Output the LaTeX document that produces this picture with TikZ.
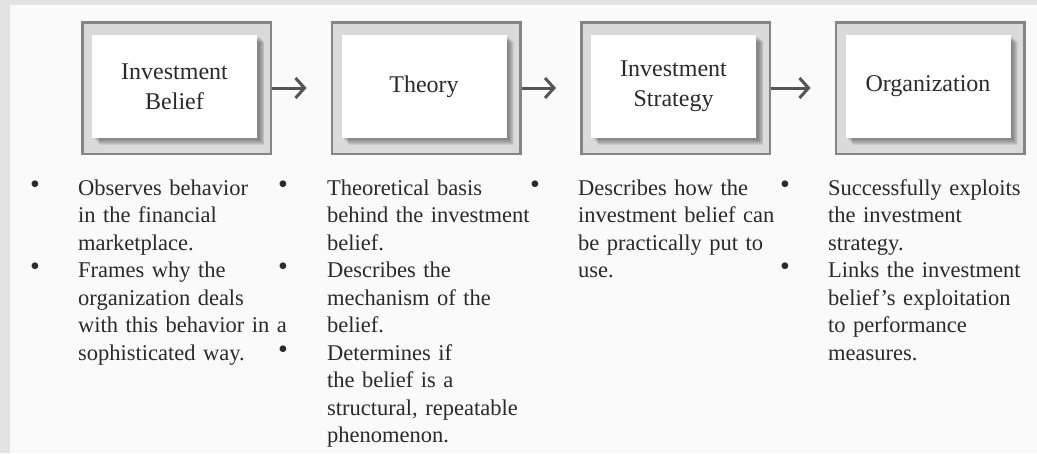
\documentclass[tikz,border=0pt]{standalone}
\usepackage{fontspec}
\setmainfont{Liberation Serif}
\usetikzlibrary{arrows.meta}
\definecolor{ink}{HTML}{2A2A2A}
\definecolor{pagebg}{HTML}{FAFAFA}
\definecolor{sidebg}{HTML}{E3E3E1}
\definecolor{framegray}{HTML}{858585}
\definecolor{framefill}{HTML}{DADADA}
\definecolor{arrowgray}{HTML}{555555}
\begin{document}
\begin{tikzpicture}[x=1pt,y=-1pt,
  frame/.style={draw=framegray, line width=2.5pt, fill=framefill,
    minimum width=188.5pt, minimum height=131.5pt, inner sep=0pt},
  innerbox/.style={fill=white, minimum width=165pt, minimum height=103pt,
    inner sep=0pt, align=center, text=ink,
    font=\fontsize{24}{30}\selectfont},
  shadowbox/.style={fill=black, opacity=0.07, minimum width=165pt,
    minimum height=103pt, inner sep=0pt},
  arr/.style={draw=arrowgray, line width=3pt,
    -{Straight Barb[length=9pt,width=20pt,line width=3pt]}},
  item/.style={anchor=base west, inner sep=0pt, text width=240pt,
    align=left, text=ink, font=\fontsize{22.5}{27.5}\selectfont},
  bul/.style={anchor=base, inner sep=0pt, text=ink,
    font=\fontsize{28}{28}\selectfont}]
\useasboundingbox (0,0) rectangle (1037,453);
\fill[sidebg] (0,0) rectangle (1037,453);
\fill[pagebg] (10,5) rectangle (1037,453);
% boxes
\foreach \n/\x/\txt in {1/176.5/{Investment\\Belief},2/426/{Theory},
  3/675.5/{Investment\\Strategy},4/930/{Organization}}{
  \node[frame] (b\n) at (\x,88) {};
  \foreach \s in {1,2,3,4,5,6}{
    \node[shadowbox] at ([xshift=\s*0.9pt,yshift=-\s*0.9pt]b\n.center) {};
  }
  \node[innerbox] (t\n) at ([xshift=-2pt,yshift=1.5pt]b\n.center) {\txt};
}
% arrows
\draw[arr] (b1.east) -- ([xshift=-24pt]b2.west);
\draw[arr] (b2.east) -- ([xshift=-24pt]b3.west);
\draw[arr] (b3.east) -- ([xshift=-24pt]b4.west);
% column 1
\node[bul] (d1a) at (35,193) {•};
\node[item] (c1a) at (78,195) {Observes behavior\\in the financial\\marketplace.};
\node[bul] (d1b) at (35,275.5) {•};
\node[item] (c1b) at (78,277.5) {Frames why the\\organization deals\\with this behavior in a\\sophisticated way.};
% column 2
\node[bul] (d2a) at (283,193) {•};
\node[item] (c2a) at (327,195) {Theoretical basis\\behind the investment\\belief.};
\node[bul] (d2b) at (283,275.5) {•};
\node[item] (c2b) at (327,277.5) {Describes the\\mechanism of the\\belief.};
\node[bul] (d2c) at (283,358) {•};
\node[item] (c2c) at (327,360) {Determines if\\the belief is a\\structural, repeatable\\phenomenon.};
% column 3
\node[bul] (d3a) at (535,193) {•};
\node[item] (c3a) at (578,195) {Describes how the\\investment belief can\\be practically put to\\use.};
% column 4
\node[bul] (d4a) at (785,193) {•};
\node[item] (c4a) at (828,195) {Successfully exploits\\the investment\\strategy.};
\node[bul] (d4b) at (785,275.5) {•};
\node[item] (c4b) at (828,277.5) {Links the investment\\belief’s exploitation\\to performance\\measures.};
\end{tikzpicture}
\end{document}
